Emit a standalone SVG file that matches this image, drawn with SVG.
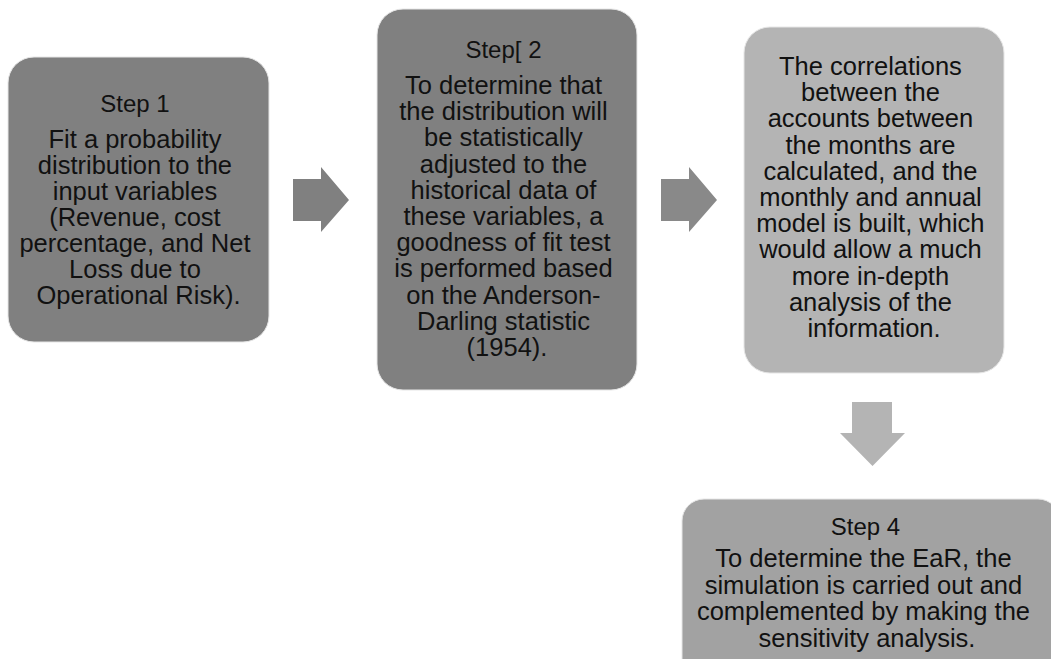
<svg xmlns="http://www.w3.org/2000/svg" width="1051" height="659" viewBox="0 0 1051 659">
<defs>
<style>
.box{stroke:#e6e6e6;stroke-width:1}
.d{fill:#808080}
.l{fill:#b4b4b4}
.m{fill:#a2a2a2}
.t{font-family:"Liberation Sans",Arial,sans-serif;font-size:25.5px;fill:#111111;text-anchor:middle}
.s{font-size:24px}
</style>
</defs>
<rect width="1051" height="659" fill="#ffffff"/>
<g id="connectors">
<polygon fill="#808080" points="293,179 321,179 321,167 349,200 321,232 321,221 293,221"/>
<polygon fill="#898989" points="661,179 689,179 689,167 717,200 689,232 689,221 661,221"/>
<polygon fill="#b4b4b4" points="852,402 892,402 892,433 905,433 872.5,466 840,433 852,433"/>
</g>
<g id="step1">
<rect class="box d" x="8" y="57" width="261" height="285" rx="26"/>
<text class="t">
<tspan class="s" x="138.5" y="112">Step 1</tspan>
<tspan x="138.5" y="148">Fit a probability</tspan>
<tspan x="138.5" y="174">distribution to the</tspan>
<tspan x="138.5" y="200">input variables</tspan>
<tspan x="138.5" y="226">(Revenue, cost</tspan>
<tspan x="138.5" y="252">percentage, and Net</tspan>
<tspan x="138.5" y="278">Loss due to</tspan>
<tspan x="138.5" y="304">Operational Risk).</tspan>
</text>
</g>
<g id="step2">
<rect class="box d" x="377" y="9" width="260" height="381" rx="26"/>
<text class="t">
<tspan class="s" x="507" y="58">Step[ 2</tspan>
<tspan x="507" y="94">To determine that</tspan>
<tspan x="507" y="120.2">the distribution will</tspan>
<tspan x="507" y="146.4">be statistically</tspan>
<tspan x="507" y="172.6">adjusted to the</tspan>
<tspan x="507" y="198.8">historical data of</tspan>
<tspan x="507" y="225">these variables, a</tspan>
<tspan x="507" y="251.2">goodness of fit test</tspan>
<tspan x="507" y="277.4">is performed based</tspan>
<tspan x="507" y="303.6">on the Anderson-</tspan>
<tspan x="507" y="329.8">Darling statistic</tspan>
<tspan x="507" y="356">(1954).</tspan>
</text>
</g>
<g id="step3">
<rect class="box l" x="744" y="27" width="260" height="346" rx="26"/>
<text class="t">
<tspan x="874" y="75">The correlations</tspan>
<tspan x="874" y="101.2">between the</tspan>
<tspan x="874" y="127.4">accounts between</tspan>
<tspan x="874" y="153.6">the months are</tspan>
<tspan x="874" y="179.8">calculated, and the</tspan>
<tspan x="874" y="206">monthly and annual</tspan>
<tspan x="874" y="232.2">model is built, which</tspan>
<tspan x="874" y="258.4">would allow a much</tspan>
<tspan x="874" y="284.6">more in-depth</tspan>
<tspan x="874" y="310.8">analysis of the</tspan>
<tspan x="874" y="337">information.</tspan>
</text>
</g>
<g id="step4">
<rect class="box m" x="682" y="499" width="378" height="200" rx="22"/>
<text class="t">
<tspan class="s" x="869" y="535">Step 4</tspan>
<tspan x="867" y="567">To determine the EaR, the</tspan>
<tspan x="867" y="593.7">simulation is carried out and</tspan>
<tspan x="867" y="620.4">complemented by making the</tspan>
<tspan x="867" y="647">sensitivity analysis.</tspan>
</text>
</g>
</svg>
